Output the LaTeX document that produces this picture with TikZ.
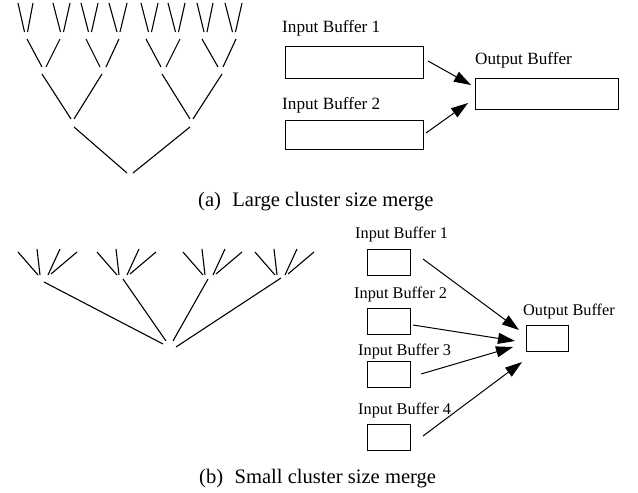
\documentclass[tikz,border=0pt]{standalone}
\usepackage{fontspec}
\setmainfont{Liberation Serif}
\usetikzlibrary{arrows.meta}

\tikzset{
  branch/.style={line width=1.1pt},
  buf/.style={draw, line width=0.9pt, rectangle, inner sep=0pt, anchor=north west},
  lbl/.style={inner sep=0pt, anchor=base west},
  lblA/.style={lbl, font=\fontsize{17.2}{19}\selectfont},
  lblB/.style={lbl, font=\fontsize{16.3}{18}\selectfont},
  subcap/.style={inner sep=0pt, anchor=base west, font=\fontsize{20.6}{23}\selectfont},
  feed/.style={line width=1pt, -{Triangle[length=17pt,width=11pt]}}
}

% one "V" of a merge tree: top-left x, top-right x, bottom-left x, bottom-right x, top y, bottom y
\newcommand{\mergevee}[6]{%
  \draw[branch] (#1,#5) -- (#3,#6);
  \draw[branch] (#2,#5) -- (#4,#6);
}

\begin{document}
\begin{tikzpicture}[x=1pt,y=-1pt]
\useasboundingbox (0,0) rectangle (638,493);

% ---------- (a) binary merge tree ----------
\foreach \l/\r in {18/33,53/70,81/98,109/127,141/158,168/185,197/213,225/242}{
  \pgfmathsetmacro{\c}{(\l+\r)/2+0.5}
  \draw[branch] (\l,3) -- (\c-1.5,32);
  \draw[branch] (\r,3) -- (\c+1.5,32);
}
\mergevee{27}{60}{42}{46}{39}{67}
\mergevee{86}{119}{100}{106}{39}{67}
\mergevee{146}{180}{161}{166}{39}{67}
\mergevee{202}{236}{218}{223}{39}{67}
\mergevee{42}{102}{71}{74}{74}{119}
\mergevee{162}{222}{190}{193}{74}{119}
\mergevee{74}{190}{127}{133}{127}{173}

% ---------- (a) buffers ----------
\node[lblA] (la1) at (282,32) {Input Buffer 1};
\node[buf, minimum width=138pt, minimum height=31.5pt] (ia1) at (284.5,46) {};
\node[lblA] (la2) at (282,109) {Input Buffer 2};
\node[buf, minimum width=138pt, minimum height=29pt] (ia2) at (284.5,119.5) {};
\node[lblA] (lao) at (475,64) {Output Buffer};
\node[buf, minimum width=143pt, minimum height=31pt] (oa) at (475,77.5) {};

\coordinate (sa1) at (428,61);
\coordinate (ta1) at (471,85);
\coordinate (sa2) at (426,133);
\coordinate (ta2) at (468,103);
\draw[feed] (sa1) -- (ta1);
\draw[feed] (sa2) -- (ta2);

\node[subcap] (capa) at (198,206) {(a)\hspace{0.55em}Large cluster size merge};

% ---------- (b) 4-way merge tree ----------
\foreach \dx in {0,79,165,237}{
  \begin{scope}[xshift=\dx pt]
    \draw[branch] (18,252) -- (38,275);
    \draw[branch] (37,249) -- (40,275);
    \draw[branch] (60,249) -- (48,275);
    \draw[branch] (77,252) -- (51,274);
  \end{scope}
}
\draw[branch] (44,282) -- (163,344);
\draw[branch] (123,279) -- (166,341);
\draw[branch] (208,279) -- (173,341);
\draw[branch] (281,278) -- (176,347);

% ---------- (b) buffers ----------
\node[lblB] (lb1) at (355,238) {Input Buffer 1};
\node[buf, minimum width=43pt, minimum height=26pt] (ib1) at (367,249) {};
\node[lblB] (lb2) at (354,298) {Input Buffer 2};
\node[buf, minimum width=43pt, minimum height=26pt] (ib2) at (367,308) {};
\node[lblB] (lb3) at (358,355) {Input Buffer 3};
\node[buf, minimum width=43pt, minimum height=26pt] (ib3) at (367,361) {};
\node[lblB] (lb4) at (358,414) {Input Buffer 4};
\node[buf, minimum width=43pt, minimum height=26pt] (ib4) at (367,424) {};
\node[lblB] (lbo) at (523,315) {Output Buffer};
\node[buf, minimum width=42pt, minimum height=26pt] (ob) at (526,325) {};

\coordinate (sb1) at (423,259);
\coordinate (tb1) at (519,330);
\coordinate (sb2) at (413,325);
\coordinate (tb2) at (515,341);
\coordinate (sb3) at (421,374);
\coordinate (tb3) at (513,347);
\coordinate (sb4) at (423,436);
\coordinate (tb4) at (522,362);
\draw[feed] (sb1) -- (tb1);
\draw[feed] (sb2) -- (tb2);
\draw[feed] (sb3) -- (tb3);
\draw[feed] (sb4) -- (tb4);

\node[subcap] (capb) at (199,483) {(b)\hspace{0.55em}Small cluster size merge};
\end{tikzpicture}
\end{document}
